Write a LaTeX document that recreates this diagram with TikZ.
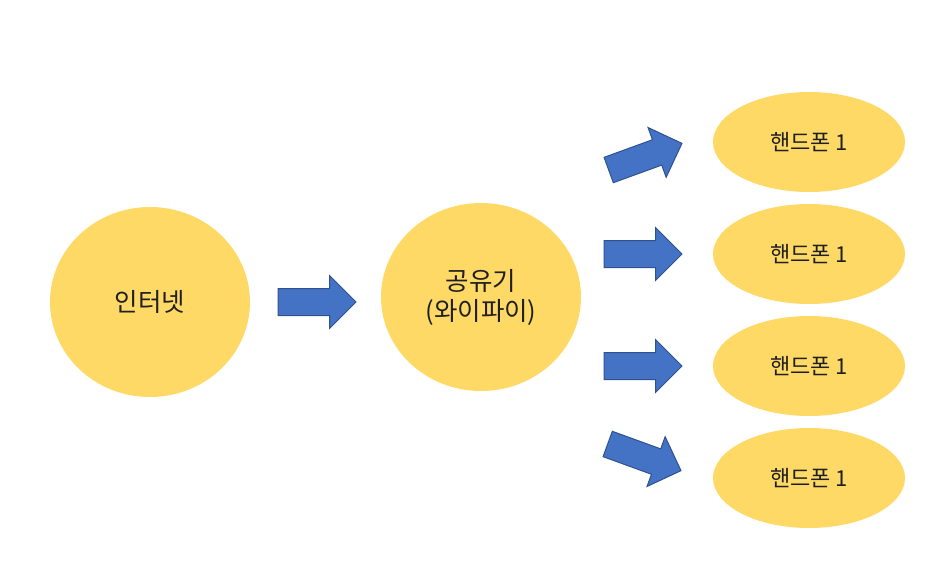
\documentclass[tikz,border=0pt]{standalone}
\usepackage{fontspec}
\setmainfont{Noto Sans CJK KR}
\usepackage{tikz}
\usetikzlibrary{positioning, shapes.arrows, shapes.geometric}
\usepackage{xcolor}
\definecolor{Gold}{HTML}{FFD966}
\definecolor{Blue}{HTML}{4472C4}
\definecolor{DarkBlue}{HTML}{2F528F}
\definecolor{Ink}{HTML}{1F1F1F}
\tikzset{%
  big_blob/.style={%
    ellipse,%
    fill=Gold,%
    minimum width=200pt,%
    minimum height=190pt,%
    inner sep=0pt,%
    outer sep=0pt,%
    text=Ink,%
    font={\fontsize{25.5}{34}\selectfont},%
    align=center%
  },
  phone_blob/.style={%
    ellipse,%
    fill=Gold,%
    minimum width=192pt,%
    minimum height=100pt,%
    inner sep=0pt,%
    outer sep=0pt,%
    text=Ink,%
    font={\fontsize{22}{26}\selectfont},%
    align=center%
  },
  block_arrow/.style={%
    single arrow,%
    fill=Blue,%
    draw=DarkBlue,%
    line width=1pt,%
    minimum height=78pt,%
    inner sep=0pt,%
    outer sep=0pt,%
    text height=13pt,%
    text depth=13pt,%
    single arrow head extend=13pt%
  },
}

\begin{document}
\begin{tikzpicture}[x=1pt, y=-1pt]
    \useasboundingbox (0, 0) rectangle (940, 586);

    \node[big_blob] (Internet) at (150, 302) {인터넷};
    \node[block_arrow, right = 28pt of Internet] (ToRouter) {};
    \node[big_blob, minimum height=188pt] (Router) at (481, 297) {\raisebox{-4pt}{공유기}\\(와이파이)};

    \node[phone_blob] (Phone1) at (809, 142) {핸드폰 1};
    \node[phone_blob, below = 12pt of Phone1] (Phone2) {핸드폰 1};
    \node[phone_blob, below = 12pt of Phone2] (Phone3) {핸드폰 1};
    \node[phone_blob, below = 12pt of Phone3] (Phone4) {핸드폰 1};

    \node[block_arrow, rotate=20] (ToPhone1) at (639, 159) {};
    \node[block_arrow, left = 31pt of Phone2] (ToPhone2) {};
    \node[block_arrow, left = 31pt of Phone3] (ToPhone3) {};
    \node[block_arrow, rotate=-20] (ToPhone4) at (638, 455) {};

  \end{tikzpicture}
\end{document}
